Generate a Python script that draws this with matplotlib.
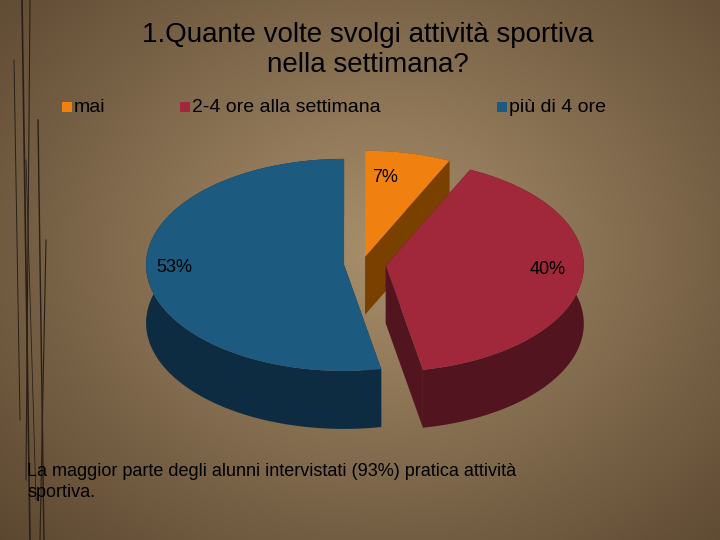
import numpy as np
import matplotlib.pyplot as plt
from matplotlib.patches import Polygon, Rectangle

plt.rcParams['font.family'] = ['Liberation Sans', 'DejaVu Sans']

labels = ['mai', '2-4 ore alla settimana', 'più di 4 ore']
values = [7, 40, 53]
pct_text = ['7%', '40%', '53%']
colors = ['#f0800f', '#a0283a', '#1c5a80']
sides = ['#7a4000', '#521520', '#0d2c42']
explode = [14, 24, 18]

fig = plt.figure(figsize=(7.2, 5.4), dpi=100)
ax = fig.add_axes([0, 0, 1, 1])
ax.set_xlim(0, 720)
ax.set_ylim(0, 540)
ax.axis('off')

# background radial gradient
yy, xx = np.mgrid[0:540, 0:720]
d = np.sqrt(((xx - 380) / 520) ** 2 + ((yy - 290) / 420) ** 2)
c0 = np.array([0.66, 0.56, 0.42])
c1 = np.array([0.36, 0.28, 0.19])
img = c0 + (c1 - c0) * np.clip(d, 0, 1)[..., None]
ax.imshow(img, extent=[0, 720, 0, 540], origin='lower', zorder=0)

# decorative lines on the left
for x0, x1, y0, y1, lw in [(22, 30, 540, 0, 1.2), (30, 26, 540, 60, 0.8), (38, 44, 420, 0, 1.0),
                           (14, 20, 480, 120, 0.7), (46, 40, 300, 0, 0.8), (26, 36, 380, 40, 0.6)]:
    ax.plot([x0, x1], [y0, y1], color='#2a2018', lw=lw, zorder=1)

cx, cy, rx, ry, depth = 362, 276, 198, 106, 58

def pt(t, ox, oy):
    return ox + rx * np.cos(t), oy + ry * np.sin(t)

slices = []
start = np.pi / 2
for v, col, sc, ex, txt in zip(values, colors, sides, explode, pct_text):
    span = 2 * np.pi * v / 100
    t0, t1 = start - span, start
    mid = (t0 + t1) / 2
    ox = cx + ex * np.cos(mid)
    oy = cy + ex * np.sin(mid) * ry / rx
    slices.append((t0, t1, mid, ox, oy, col, sc, txt))
    start = t0

slices.sort(key=lambda s: -np.sin(s[2]))
for t0, t1, mid, ox, oy, col, sc, txt in slices:
    for t in (t0, t1):
        ex_, ey_ = pt(t, ox, oy)
        quad = [(ox, oy), (ex_, ey_), (ex_, ey_ - depth), (ox, oy - depth)]
        ax.add_patch(Polygon(quad, closed=True, fc=sc, ec='none', zorder=2))
    ts = np.linspace(t0, t1, 200)
    xs, ys = pt(ts, ox, oy)
    wall = list(zip(xs, ys)) + list(zip(xs[::-1], ys[::-1] - depth))
    ax.add_patch(Polygon(wall, closed=True, fc=sc, ec='none', zorder=2))
    top = [(ox, oy)] + list(zip(xs, ys))
    ax.add_patch(Polygon(top, closed=True, fc=col, ec='none', zorder=3))

ax.text(385, 362, '7%', fontsize=13, ha='center', va='center', zorder=4)
ax.text(548, 270, '40%', fontsize=13, ha='center', va='center', zorder=4)
ax.text(174, 272, '53%', fontsize=13, ha='center', va='center', zorder=4)

ax.text(368, 490, '1.Quante volte svolgi attività sportiva\nnella settimana?', fontsize=20,
        ha='center', va='center', linespacing=1.2, zorder=4)

for x, lab, col in [(62, labels[0], colors[0]), (180, labels[1], colors[1]), (497, labels[2], colors[2])]:
    ax.add_patch(Rectangle((x, 428), 10, 10, fc=col, ec='none', zorder=4))
    ax.text(x + 12, 432, lab, fontsize=14, ha='left', va='center', zorder=4)

ax.text(27, 58, 'La maggior parte degli alunni intervistati (93%) pratica attività\nsportiva.',
        fontsize=13, ha='left', va='center', linespacing=1.25, zorder=4)

fig.savefig('out.png', dpi=100)
